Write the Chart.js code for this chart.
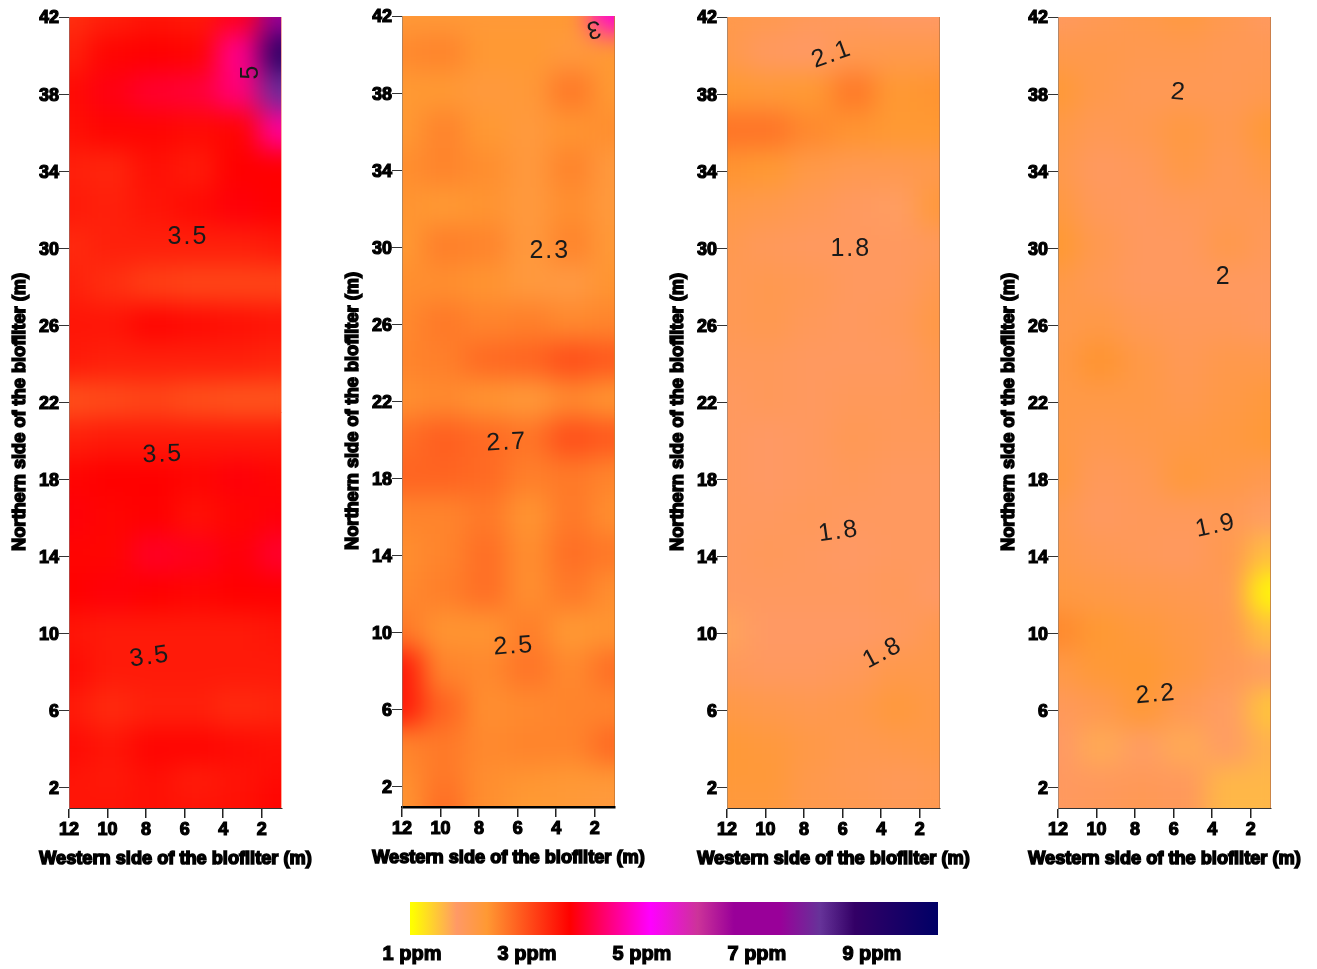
<!DOCTYPE html>
<html>
<head>
<meta charset="utf-8">
<title>Biofilter ppm maps</title>
<script src="https://cdn.jsdelivr.net/npm/chart.js@4"></script>
<style>
  html, body { margin: 0; padding: 0; background: #fff; }
  body { width: 1317px; height: 969px; position: relative; overflow: hidden; }
  canvas { position: absolute; filter: blur(0.5px); }
</style>
</head>
<body>
<canvas id="panel0" width="328" height="890" style="left:0;top:0"></canvas>
<canvas id="panel1" width="328" height="890" style="left:333px;top:-1px"></canvas>
<canvas id="panel2" width="328" height="890" style="left:658px;top:0"></canvas>
<canvas id="panel3" width="328" height="890" style="left:989px;top:0"></canvas>
<canvas id="colorbar" width="640" height="79" style="left:360px;top:890px"></canvas>
<script>
// measuring positions along the bed (m)
var westTicks = [12, 10, 8, 6, 4, 2];
var northTicks = [42, 38, 34, 30, 26, 22, 18, 14, 10, 6, 2];
var gridX = [12, 9.8, 7.6, 5.4, 3.2, 1];
var gridY = [42, 40, 38, 36, 34, 32, 30, 28, 26, 24, 22, 20, 18, 16, 14, 12, 10, 8, 6, 4, 2, 1];

// ppm, one line per gridY row, one value per gridX column
var ppmFirst = [
  [3.3, 3.45, 3.55, 3.5, 3.9, 7.0],
  [3.45, 3.7, 3.75, 3.7, 4.5, 8.8],
  [3.65, 3.85, 4.0, 4.05, 4.4, 8.0],
  [3.6, 3.7, 3.7, 3.65, 3.7, 4.6],
  [3.45, 3.4, 3.6, 3.5, 3.75, 3.75],
  [3.5, 3.45, 3.55, 3.65, 3.8, 3.75],
  [3.35, 3.45, 3.45, 3.45, 3.45, 3.5],
  [3.45, 3.3, 3.15, 3.1, 3.1, 3.1],
  [3.55, 3.55, 3.7, 3.65, 3.6, 3.55],
  [3.5, 3.45, 3.45, 3.45, 3.45, 3.4],
  [3.0, 3.05, 3.1, 3.0, 2.95, 2.95],
  [3.45, 3.5, 3.5, 3.5, 3.5, 3.5],
  [3.7, 3.75, 3.75, 3.7, 3.8, 3.7],
  [3.8, 3.7, 3.75, 3.6, 3.7, 3.8],
  [3.7, 3.7, 3.95, 3.9, 3.8, 4.0],
  [3.75, 3.8, 3.75, 3.7, 3.75, 3.75],
  [3.55, 3.5, 3.5, 3.5, 3.5, 3.55],
  [3.65, 3.5, 3.5, 3.5, 3.5, 3.5],
  [3.5, 3.35, 3.45, 3.45, 3.35, 3.4],
  [3.65, 3.55, 3.7, 3.7, 3.65, 3.6],
  [3.55, 3.5, 3.6, 3.45, 3.55, 3.65],
  [3.55, 3.55, 3.6, 3.55, 3.6, 3.7]
];
var ppmSecond = [
  [2.25, 2.25, 2.25, 2.25, 2.3, 4.9],
  [2.45, 2.5, 2.3, 2.3, 2.2, 2.3],
  [2.3, 2.3, 2.2, 2.25, 2.6, 2.3],
  [2.3, 2.5, 2.3, 2.2, 2.35, 2.4],
  [2.4, 2.5, 2.4, 2.2, 2.5, 2.2],
  [2.35, 2.3, 2.35, 2.2, 2.4, 2.2],
  [2.3, 2.55, 2.5, 2.2, 2.5, 2.25],
  [2.4, 2.4, 2.35, 2.2, 2.15, 2.35],
  [2.45, 2.6, 2.5, 2.55, 2.45, 2.5],
  [2.5, 2.55, 2.75, 2.8, 3.0, 2.9],
  [2.4, 2.45, 2.35, 2.25, 2.45, 2.35],
  [2.7, 2.85, 2.75, 2.65, 3.0, 2.9],
  [2.8, 2.8, 2.75, 2.55, 2.6, 2.5],
  [2.5, 2.5, 2.6, 2.35, 2.6, 2.4],
  [2.4, 2.5, 2.7, 2.4, 2.7, 2.6],
  [2.45, 2.55, 2.7, 2.4, 2.6, 2.4],
  [2.6, 2.35, 2.35, 2.55, 2.3, 2.35],
  [3.5, 2.5, 2.45, 2.65, 2.45, 2.7],
  [3.5, 2.8, 2.4, 2.45, 2.5, 2.5],
  [2.5, 2.6, 2.45, 2.5, 2.5, 2.75],
  [2.4, 2.6, 2.4, 2.35, 2.3, 2.3],
  [2.35, 2.7, 2.4, 2.3, 2.25, 2.2]
];
var ppmThird = [
  [2.05, 2.0, 1.9, 1.85, 1.8, 1.8],
  [2.05, 1.85, 1.8, 2.0, 2.05, 2.05],
  [2.3, 2.25, 2.3, 2.6, 2.3, 2.35],
  [2.65, 2.65, 2.45, 2.35, 2.3, 2.3],
  [2.35, 2.3, 2.1, 2.0, 2.0, 2.05],
  [2.1, 2.05, 1.95, 1.85, 1.75, 2.2],
  [2.0, 1.9, 1.85, 1.85, 1.85, 1.9],
  [1.95, 2.0, 1.95, 1.85, 1.85, 2.0],
  [1.95, 2.0, 1.9, 1.85, 1.9, 2.1],
  [1.9, 1.9, 1.85, 1.85, 1.85, 2.0],
  [1.85, 1.9, 1.85, 1.9, 1.9, 1.95],
  [1.85, 1.8, 1.85, 1.95, 1.9, 1.9],
  [1.85, 1.8, 1.85, 1.9, 1.85, 1.85],
  [1.85, 1.85, 1.9, 1.85, 1.85, 1.85],
  [1.85, 1.9, 1.85, 1.8, 1.85, 1.85],
  [1.85, 1.85, 1.85, 1.85, 1.9, 1.8],
  [1.7, 1.8, 1.8, 1.8, 1.85, 2.0],
  [1.9, 1.85, 1.85, 1.9, 2.05, 2.05],
  [2.1, 2.05, 2.0, 2.05, 2.2, 2.1],
  [2.25, 2.2, 2.1, 2.0, 2.05, 2.1],
  [2.25, 2.25, 2.05, 1.95, 1.9, 1.95],
  [2.2, 2.2, 2.05, 2.0, 1.95, 2.0]
];
var ppmFourth = [
  [1.85, 1.95, 2.05, 2.15, 2.0, 1.85],
  [2.05, 2.05, 2.0, 2.0, 1.95, 1.95],
  [2.25, 2.05, 1.95, 1.95, 1.95, 2.0],
  [2.1, 1.95, 2.0, 2.15, 2.0, 2.25],
  [2.05, 1.85, 1.9, 2.1, 1.95, 2.1],
  [2.15, 1.9, 1.85, 1.9, 1.95, 1.95],
  [2.3, 2.0, 1.85, 1.85, 2.05, 1.9],
  [2.1, 1.95, 1.85, 1.85, 1.85, 1.85],
  [2.05, 2.1, 1.95, 1.9, 1.9, 1.85],
  [2.1, 2.35, 2.1, 1.95, 2.05, 2.05],
  [2.1, 2.1, 2.1, 2.0, 2.1, 2.2],
  [2.1, 2.0, 2.05, 2.1, 2.15, 2.25],
  [2.15, 1.9, 1.95, 2.2, 2.1, 2.0],
  [2.0, 1.85, 1.9, 1.9, 1.95, 1.75],
  [2.05, 1.95, 1.9, 1.85, 2.0, 1.5],
  [2.15, 2.1, 2.05, 2.0, 1.95, 1.05],
  [2.45, 2.3, 2.2, 2.1, 2.0, 1.5],
  [2.1, 2.25, 2.3, 2.15, 1.95, 1.75],
  [1.9, 2.0, 2.25, 1.95, 1.75, 1.45],
  [1.8, 1.65, 1.75, 1.65, 1.75, 1.6],
  [1.85, 1.85, 1.9, 1.85, 1.55, 1.55],
  [1.85, 1.9, 1.95, 1.9, 1.55, 1.55]
];

// contour labels printed on each map: text, west (m), north (m), turn (deg)
var labelsFirst = [['5', 2.57, 39.27, -90], ['3.5', 5.83, 30.7, 0], ['3.5', 7.13, 19.4, -2], ['3.5', 7.8, 8.9, -8]];
var labelsSecond = [['3', 2.1, 41.45, 170], ['2.3', 4.33, 29.93, 0], ['2.7', 6.56, 19.97, -3], ['2.5', 6.2, 9.4, -4]];
var labelsThird = [['2.1', 6.56, 40.15, -20], ['1.8', 5.58, 30.04, 0], ['1.8', 6.2, 15.4, -8], ['1.8', 3.92, 9.1, -28]];
var labelsFourth = [['2', 5.73, 38.18, 5], ['2', 3.4, 28.6, 0], ['1.9', 3.81, 15.7, -12], ['2.2', 6.92, 6.95, -5]];

// colour bar
var rampPpm = [1, 1.78, 2.3, 3.75, 5.15, 5.97, 6.6, 7.4, 8.1, 8.7, 10.15];
var rampColors = ['#ffff00', '#ff9966', '#ff9933', '#ff0000', '#ff00ff', '#cc3399', '#990099', '#990099', '#663399', '#330066', '#000066'];
var barTicks = [1, 3, 5, 7, 9];

var westTitle = 'Western side of the biofilter (m)';
var northTitle = 'Northern side of the biofilter (m)';

function hexRgb(h) {
  return [parseInt(h.substr(1, 2), 16), parseInt(h.substr(3, 2), 16), parseInt(h.substr(5, 2), 16)];
}

function ppmColor(v) {
  for (var i = 1; i < rampPpm.length; i++) {
    if (v <= rampPpm[i]) {
      var t = (v - rampPpm[i - 1]) / (rampPpm[i] - rampPpm[i - 1]);
      var a = hexRgb(rampColors[i - 1]), b = hexRgb(rampColors[i]);
      return 'rgb(' + a.map(function (c, k) { return Math.round(c + (b[k] - c) * t); }).join(',') + ')';
    }
  }
  return rampColors[rampColors.length - 1];
}

function gridPoints(rows) {
  var pts = [];
  rows.forEach(function (row, r) {
    row.forEach(function (v, c) {
      pts.push({ x: gridX[c], y: gridY[r], v: v });
    });
  });
  return pts;
}

function heavyText(ctx, text, x, y, rot) {
  ctx.save();
  ctx.translate(x, y);
  ctx.rotate(rot);
  ctx.font = 'bold 18.2px "Liberation Sans"';
  ctx.textAlign = 'center';
  ctx.textBaseline = 'middle';
  ctx.fillStyle = '#000';
  ctx.strokeStyle = '#000';
  ctx.lineWidth = 1.5;
  ctx.strokeText(text, 0, 0);
  ctx.fillText(text, 0, 0);
  ctx.restore();
}

// melts the square cells into a smooth surface, then trims to the plot
var smoothPlugin = {
  id: 'smooth',
  afterDatasetsDraw: function (chart) {
    var ctx = chart.ctx, a = chart.chartArea, cv = chart.canvas;
    var off = document.createElement('canvas');
    off.width = cv.width;
    off.height = cv.height;
    off.getContext('2d').drawImage(cv, 0, 0);
    ctx.save();
    ctx.clearRect(0, 0, cv.width, cv.height);
    ctx.beginPath();
    ctx.rect(a.left, a.top, a.right - a.left, a.bottom - a.top);
    ctx.clip();
    ctx.drawImage(off, 0, 0);
    ctx.filter = 'blur(13px)';
    ctx.drawImage(off, 0, 0);
    ctx.restore();
    // darker hairline on the right side of the plot
    ctx.save();
    ctx.strokeStyle = chart.options.plugins.smooth.edge;
    ctx.beginPath();
    ctx.moveTo(a.right - 0.5, a.top);
    ctx.lineTo(a.right - 0.5, a.bottom);
    ctx.stroke();
    ctx.restore();
  }
};

var textPlugin = {
  id: 'mapText',
  afterDraw: function (chart) {
    var ctx = chart.ctx, a = chart.chartArea, sx = chart.scales.x, sy = chart.scales.y;
    heavyText(ctx, westTitle, (a.left + a.right) / 2, 859, 0);
    heavyText(ctx, northTitle, a.left - 49, 412, -Math.PI / 2);
    chart.options.plugins.mapText.labels.forEach(function (l) {
      ctx.save();
      ctx.translate(sx.getPixelForValue(l[1]), sy.getPixelForValue(l[2]) + 2);
      ctx.rotate(l[3] * Math.PI / 180);
      ctx.font = '25px "Liberation Sans"';
      ctx.letterSpacing = '2px';
      ctx.textAlign = 'center';
      ctx.textBaseline = 'middle';
      ctx.fillStyle = '#1a1a1a';
      ctx.fillText(l[0], 0, 0);
      ctx.restore();
    });
  }
};

function makePanel(id, rows, labels, edge, axisLine) {
  new Chart(document.getElementById(id), {
    type: 'scatter',
    data: {
      datasets: [{
        data: gridPoints(rows),
        clip: false,
        pointStyle: 'rect',
        borderWidth: 0,
        pointBorderWidth: 0,
        pointBackgroundColor: function (c) { return ppmColor(c.raw.v); },
        pointRadius: function (c) {
          var s = c.chart.scales.x;
          return Math.abs(s.getPixelForValue(2.2) - s.getPixelForValue(0)) * Math.SQRT1_2 + 1;
        }
      }]
    },
    options: {
      responsive: false,
      animation: false,
      events: [],
      layout: { padding: { left: 39, right: 46, top: 17, bottom: 0 } },
      scales: {
        x: {
          type: 'linear',
          reverse: true,
          min: 0.95,
          max: 12,
          afterBuildTicks: function (s) { s.ticks = westTicks.map(function (v) { return { value: v }; }); },
          afterFit: function (s) { s.height = 82; },
          grid: { z: 1, drawOnChartArea: false, tickLength: 10, color: '#222', lineWidth: 1.5 },
          border: { z: 1, color: axisLine[0], width: axisLine[1] },
          ticks: {
            z: 1, padding: 1, color: '#000', autoSkip: false, maxRotation: 0,
            textStrokeColor: '#000', textStrokeWidth: 1.2,
            font: { family: '"Liberation Sans"', size: 18, weight: 'bold' }
          }
        },
        y: {
          type: 'linear',
          min: 0.96,
          max: 42,
          afterBuildTicks: function (s) { s.ticks = northTicks.map(function (v) { return { value: v }; }); },
          afterFit: function (s) { s.width = 30; },
          grid: { z: 1, drawOnChartArea: false, tickLength: 10, color: '#333', lineWidth: 1 },
          border: { z: 1, color: 'rgba(120,120,120,0.55)', width: 1 },
          ticks: {
            z: 1, padding: 0, labelOffset: 1.5, color: '#000', autoSkip: false,
            textStrokeColor: '#000', textStrokeWidth: 1.2,
            font: { family: '"Liberation Sans"', size: 18, weight: 'bold' }
          }
        }
      },
      plugins: {
        legend: { display: false },
        tooltip: { enabled: false },
        smooth: { edge: edge },
        mapText: { labels: labels }
      }
    },
    plugins: [smoothPlugin, textPlugin]
  });
}

makePanel('panel0', ppmFirst, labelsFirst, 'rgba(255,190,170,0.9)', ['#333', 1]);
makePanel('panel1', ppmSecond, labelsSecond, 'rgba(200,120,50,0.8)', ['#000', 2.5]);
makePanel('panel2', ppmThird, labelsThird, 'rgba(190,120,70,0.8)', ['#333', 1]);
makePanel('panel3', ppmFourth, labelsFourth, 'rgba(190,120,70,0.8)', ['#333', 1]);

new Chart(document.getElementById('colorbar'), {
  type: 'bar',
  data: {
    labels: ['ppm'],
    datasets: [{
      data: [[0.965, 10.15]],
      barPercentage: 1,
      categoryPercentage: 1,
      borderSkipped: false,
      backgroundColor: function (c) {
        var a = c.chart.chartArea;
        if (!a) return '#000';
        var s = c.chart.scales.x;
        var g = c.chart.ctx.createLinearGradient(a.left, 0, a.right, 0);
        rampPpm.forEach(function (p, i) {
          g.addColorStop((s.getPixelForValue(p) - a.left) / (a.right - a.left), rampColors[i]);
        });
        return g;
      }
    }]
  },
  options: {
    indexAxis: 'y',
    responsive: false,
    animation: false,
    events: [],
    layout: { padding: { left: 50, right: 62, top: 12, bottom: 0 } },
    scales: {
      x: {
        type: 'linear',
        min: 0.965,
        max: 10.15,
        afterBuildTicks: function (s) { s.ticks = barTicks.map(function (v) { return { value: v }; }); },
        afterFit: function (s) { s.height = 34; },
        grid: { display: false, drawTicks: false },
        border: { display: false },
        ticks: {
          padding: 7, color: '#000', autoSkip: false, maxRotation: 0,
          textStrokeColor: '#000', textStrokeWidth: 1.2,
          font: { family: '"Liberation Sans"', size: 20, weight: 'bold' },
          callback: function (v) { return v + ' ppm'; }
        }
      },
      y: { display: false }
    },
    plugins: { legend: { display: false }, tooltip: { enabled: false } }
  }
});
</script>
</body>
</html>
